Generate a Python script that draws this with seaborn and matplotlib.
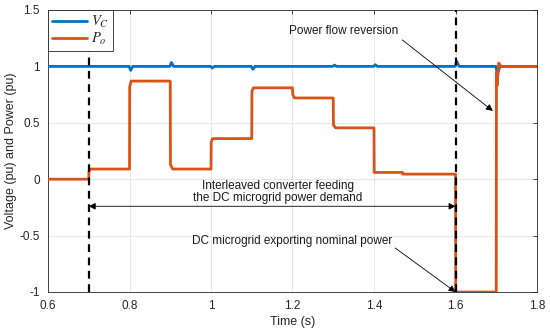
import numpy as np
import pandas as pd
import matplotlib
matplotlib.use("Agg")
import matplotlib.pyplot as plt
import seaborn as sns

# ---- data ----
t_vc = [0.6, 0.799, 0.803, 0.808, 0.899, 0.903, 0.908, 0.999, 1.003, 1.008,
        1.099, 1.103, 1.108, 1.299, 1.303, 1.308, 1.399, 1.403, 1.408,
        1.599, 1.603, 1.609, 1.699, 1.703, 1.709, 1.8]
v_vc = [1.0, 1.0, 0.965, 1.0, 1.0, 1.035, 1.0, 1.0, 0.985, 1.0,
        1.0, 0.975, 1.0, 1.0, 1.012, 1.0, 1.0, 1.015, 1.0,
        1.0, 1.045, 1.0, 1.0, 0.935, 1.0, 1.0]

t_po = [0.6, 0.7, 0.7005, 0.704, 0.8, 0.8005, 0.804, 0.9, 0.9005, 0.906,
        1.0, 1.0005, 1.004, 1.1, 1.1005, 1.104, 1.2, 1.2005, 1.205,
        1.3, 1.3005, 1.306, 1.4, 1.4005, 1.47, 1.4705, 1.6, 1.6005,
        1.7, 1.7005, 1.702, 1.706, 1.712, 1.8]
v_po = [0.0, 0.0, 0.07, 0.09, 0.09, 0.82, 0.87, 0.87, 0.13, 0.09,
        0.09, 0.33, 0.36, 0.36, 0.78, 0.81, 0.81, 0.75, 0.72,
        0.72, 0.48, 0.455, 0.455, 0.06, 0.06, 0.045, 0.045, -1.0,
        -1.0, 0.95, 0.83, 1.03, 1.0, 1.0]

series_names = [r"$V_C$", r"$P_o$"]
x_ticks = [0.6, 0.8, 1.0, 1.2, 1.4, 1.6, 1.8]
x_labels = ["0.6", "0.8", "1", "1.2", "1.4", "1.6", "1.8"]
y_ticks = [-1, -0.5, 0, 0.5, 1, 1.5]
y_labels = ["-1", "-0.5", "0", "0.5", "1", "1.5"]
event_times = [0.7, 1.6]

df = pd.concat([
    pd.DataFrame({"t": t_vc, "v": v_vc, "s": series_names[0]}),
    pd.DataFrame({"t": t_po, "v": v_po, "s": series_names[1]}),
], ignore_index=True)

sns.set_style("whitegrid")
plt.rcParams["font.family"] = ["Liberation Sans", "DejaVu Sans"]
plt.rcParams["mathtext.fontset"] = "stix"

fig = plt.figure(figsize=(5.5, 3.35), dpi=100)
ax = fig.add_axes([48/550, 1-292/335, (537-48)/550, (292-10)/335])

sns.lineplot(data=df, x="t", y="v", hue="s", palette=["#0072BD", "#D95319"],
             estimator=None, sort=False, linewidth=2.0, ax=ax, zorder=3)

for et in event_times:
    ax.plot([et, et], [-1, 1.5], color="black", linestyle=(0, (3.5, 2.5)),
            linewidth=1.6, zorder=4)

ax.set_xlim(0.6, 1.8)
ax.set_ylim(-1, 1.5)
ax.set_xticks(x_ticks)
ax.set_xticklabels(x_labels)
ax.set_yticks(y_ticks)
ax.set_yticklabels(y_labels)
ax.grid(True, color="#e3e3e3", linewidth=0.6)
for sp in ax.spines.values():
    sp.set_visible(True)
    sp.set_color("#262626")
    sp.set_linewidth(0.6)
ax.tick_params(direction="in", length=3, width=0.6, colors="#262626",
               labelsize=8.5, top=True, right=True, labelcolor="#262626")
ax.tick_params(axis="x", pad=6)
ax.tick_params(axis="y", pad=6)
ax.set_xlabel("Time (s)", fontsize=9, color="#262626", labelpad=3)
ax.set_ylabel("Voltage (pu) and Power (pu)", fontsize=9, color="#262626", labelpad=2)

leg = ax.legend(loc="upper left", borderaxespad=0, fontsize=10.5, fancybox=False,
                framealpha=1, edgecolor="#262626", handlelength=2.4,
                borderpad=0.25, labelspacing=0.1, handletextpad=0.3)
leg.get_frame().set_linewidth(0.6)
leg.set_zorder(10)

tc = "#1a1a1a"
ax.text(1.326, 1.31, "Power flow reversion", ha="center", va="center",
        fontsize=8.5, color=tc)
ax.annotate("", xy=(1.697, 0.59), xytext=(1.464, 1.25),
            arrowprops=dict(arrowstyle="-|>", color="black", lw=0.6,
                            mutation_scale=10), zorder=5)

ax.text(1.164, -0.11, "Interleaved converter feeding\nthe DC microgrid power demand",
        ha="center", va="center", fontsize=8.5, color=tc, linespacing=1.0)
ax.annotate("", xy=(1.6, -0.24), xytext=(0.7, -0.24),
            arrowprops=dict(arrowstyle="<|-|>", color="black", lw=0.6,
                            mutation_scale=10, shrinkA=0, shrinkB=0), zorder=5)

ax.text(1.199, -0.55, "DC microgrid exporting nominal power", ha="center",
        va="center", fontsize=8.5, color=tc)
ax.annotate("", xy=(1.6, -1.0), xytext=(1.452, -0.61),
            arrowprops=dict(arrowstyle="-|>", color="black", lw=0.6,
                            mutation_scale=10, shrinkA=0, shrinkB=0), zorder=5)

fig.savefig("out.png", dpi=100)
